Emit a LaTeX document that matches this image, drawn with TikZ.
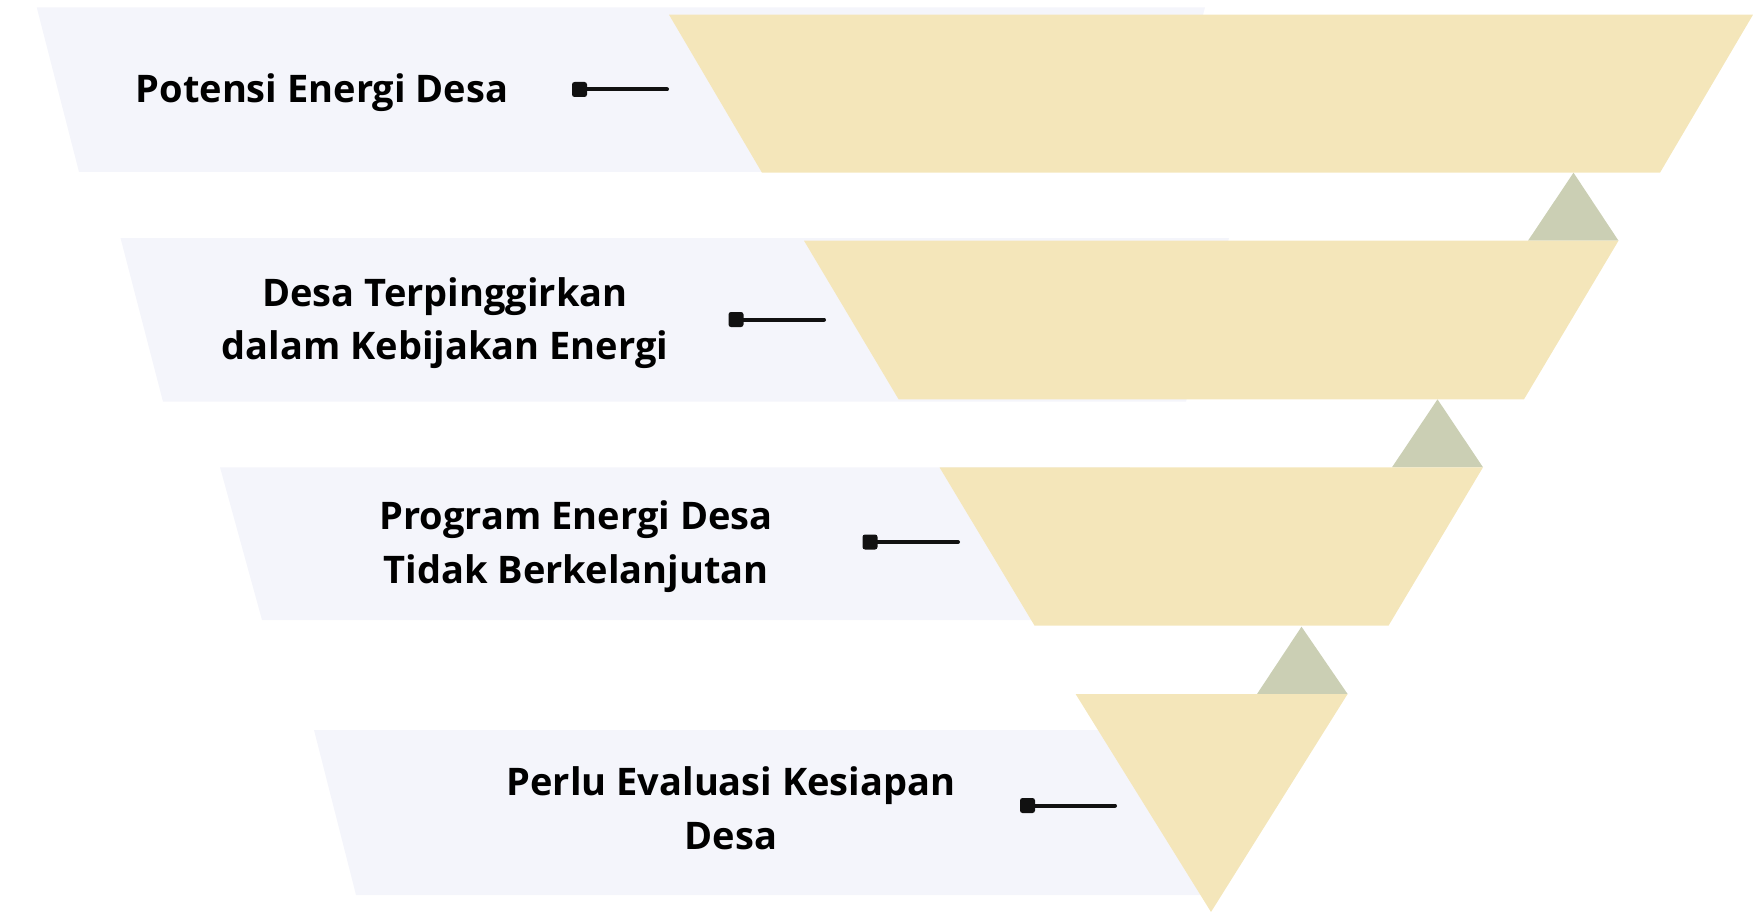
\documentclass[tikz,border=0pt]{standalone}
\usepackage{fontspec}
\setmainfont{Open Sans}
\definecolor{bandgrey}{HTML}{F4F5FB}
\definecolor{funnelyellow}{HTML}{F4E6BA}
\definecolor{tipgreen}{HTML}{CBCFB4}
\definecolor{inkblack}{HTML}{111111}
\begin{document}
\begin{tikzpicture}[x=1pt,y=-1pt,
  band/.style={fill=bandgrey},
  funnel/.style={fill=funnelyellow},
  pointer/.style={fill=tipgreen},
  lbl/.style={font=\fontsize{38}{46}\selectfont\bfseries, text=black, inner sep=0pt, anchor=base},
  knob/.style={rectangle, fill=inkblack, minimum width=15pt, minimum height=15pt, inner sep=0pt, rounded corners=2.5pt},
  wire/.style={draw=inkblack, line width=4pt, line cap=round}]
\useasboundingbox (0,0) rectangle (1764,912);
% grey bands
\fill[band] (36.7,7.3) -- (1205,7.3) -- (1162,172) -- (79,172) -- cycle;
\fill[band] (120.5,238) -- (1229,238) -- (1186,401.7) -- (163,401.7) -- cycle;
\fill[band] (220,467.3) -- (1130,467.3) -- (1091,620) -- (262,620) -- cycle;
\fill[band] (314,730) -- (1248,730) -- (1205,895) -- (356,895) -- cycle;
% pointer triangles
\fill[pointer] (1573.5,172.7) -- (1618.5,240.7) -- (1528,240.7) -- cycle;
\fill[pointer] (1437.5,399.3) -- (1483,467.3) -- (1392,467.3) -- cycle;
\fill[pointer] (1301.5,626.7) -- (1347.6,694) -- (1257,694) -- cycle;
% funnel pieces
\fill[funnel] (669,14.7) -- (1753,14.7) -- (1660,172.7) -- (762,172.7) -- cycle;
\fill[funnel] (804,240.7) -- (1618.5,240.7) -- (1524,399.3) -- (898.6,399.3) -- cycle;
\fill[funnel] (939.5,467.3) -- (1483,467.3) -- (1388.5,625.7) -- (1034.6,625.7) -- cycle;
\fill[funnel] (1075.6,694) -- (1347.6,694) -- (1211,912) -- cycle;
% labels
\node[lbl] (l1) at (322,102.5) {Potensi Energi Desa};
\node[lbl] (l2a) at (445,306.5) {Desa Terpinggirkan};
\node[lbl] (l2b) at (445,359.5) {dalam Kebijakan Energi};
\node[lbl] (l3a) at (576,529.5) {Program Energi Desa};
\node[lbl] (l3b) at (576,583) {Tidak Berkelanjutan};
\node[lbl] (l4a) at (731,795.5) {Perlu Evaluasi Kesiapan};
\node[lbl] (l4b) at (731,849.5) {Desa};
% connectors
\node[knob] (k1) at (579.5,89.5) {};
\coordinate (e1) at (667,89.5);
\draw[wire] (k1.center) -- (e1);
\node[knob] (k2) at (736,319.5) {};
\coordinate (e2) at (824,319.5);
\draw[wire] (k2.center) -- (e2);
\node[knob] (k3) at (870,542) {};
\coordinate (e3) at (958,542);
\draw[wire] (k3.center) -- (e3);
\node[knob] (k4) at (1027.5,805.5) {};
\coordinate (e4) at (1115,805.5);
\draw[wire] (k4.center) -- (e4);
\end{tikzpicture}
\end{document}
